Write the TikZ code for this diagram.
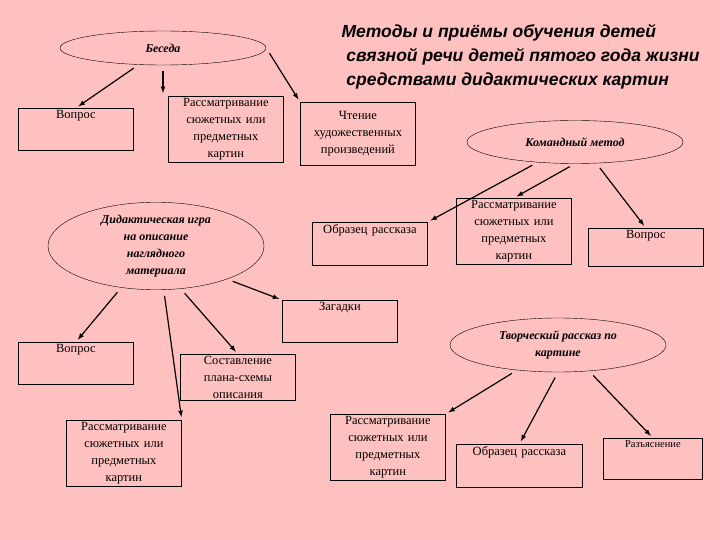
\documentclass[tikz,border=0pt]{standalone}
\usepackage{fontspec}
\setmainfont{Liberation Serif}
\newfontfamily\titlefont{Liberation Sans}
\usetikzlibrary{shapes,arrows,positioning}
\definecolor{bgpink}{RGB}{255,192,192}
\tikzset{
  box/.style={draw, thick, fill=bgpink, text width=#1, align=center, anchor=north west,
    inner sep=2pt, font=\fontsize{12.5}{17}\selectfont},
  box/.default=111pt,
  oval/.style={draw, ellipse, fill=bgpink, align=center, inner sep=0pt,
    font=\fontsize{12}{17}\bfseries\itshape\selectfont},
  link/.style={-latex, very thick, shorten <=6pt, shorten >=3pt}
}
\begin{document}
\begin{tikzpicture}[x=1pt,y=-1pt]
    \fill[bgpink] (0,0) rectangle (720,540);
    \useasboundingbox (0,0) rectangle (720,540);

    % Title
    \node[font=\titlefont\fontsize{17.5}{24}\bfseries\itshape\selectfont, align=left, anchor=north west] (title) at (338,21)
      {Методы и приёмы обучения детей\\ \ связной речи детей пятого года жизни\\ \ средствами дидактических картин};

    % Ellipses
    \node[oval, minimum width=206pt, minimum height=34pt] (beseda) at (163,48) {Беседа};
    \node[oval, minimum width=216pt, minimum height=43pt] (komand) at (575,142) {Командный метод};
    \node[oval, minimum width=216pt, minimum height=82pt] (didakt) at (156,246) {Дидактическая игра\\на описание\\наглядного\\материала};
    \node[oval, minimum width=216pt, minimum height=54pt] (tvorch) at (558,345) {Творческий рассказ по\\картине};

    % Boxes, upper part
    \node[box, text depth=30pt] (vopros1) at (18,108) {Вопрос};
    \node[box] (rassm1) at (168,96) {Рассматривание\\сюжетных или\\предметных\\картин};
    \node[box, minimum height=63pt] (chtenie) at (300,102) {Чтение\\художественных\\произведений};
    \node[box, text depth=30pt] (obrazec1) at (312,222) {Образец рассказа};
    \node[box] (rassm2) at (456,198) {Рассматривание\\сюжетных или\\предметных\\картин};
    \node[box, text depth=26pt] (vopros2) at (588,228) {Вопрос};

    % Boxes, lower part
    \node[box, text depth=30pt] (zagadki) at (282,300) {Загадки};
    \node[box, text depth=30pt] (vopros3) at (18,342) {Вопрос};
    \node[box] (sostav) at (180,354) {Составление\\плана-схемы\\описания};
    \node[box] (rassm3) at (66,420) {Рассматривание\\сюжетных или\\предметных\\картин};
    \node[box] (rassm4) at (330,414) {Рассматривание\\сюжетных или\\предметных\\картин};
    \node[box, text width=122pt, text depth=30pt] (obrazec2) at (456,444) {Образец рассказа};
    \node[box, text width=95pt, text depth=30pt, font=\fontsize{10.5}{14}\selectfont] (razyasn) at (603,438) {Разъяснение};

    % Arrows
    \draw[link] (beseda) -- (vopros1.north);
    \draw[link] (beseda.south) -- (rassm1.north west -| beseda.south);
    \draw[link] (beseda.east) -- (chtenie.north west);
    \draw[link] (komand) -- (obrazec1.north east);
    \draw[link] (komand.south) -- (rassm2.north);
    \draw[link] (komand.-45) -- (vopros2.north);
    \draw[link] (didakt) -- (vopros3.north);
    \draw[link] (didakt.-80) -- (rassm3.north east);
    \draw[link] (didakt.-60) -- (sostav.north);
    \draw[link] (didakt.-25) -- (zagadki.north west);
    \draw[link] (tvorch) -- (rassm4.north east);
    \draw[link] (tvorch.south) -- (obrazec2.north);
    \draw[link] (tvorch.-40) -- (razyasn.north);
\end{tikzpicture}
\end{document}
